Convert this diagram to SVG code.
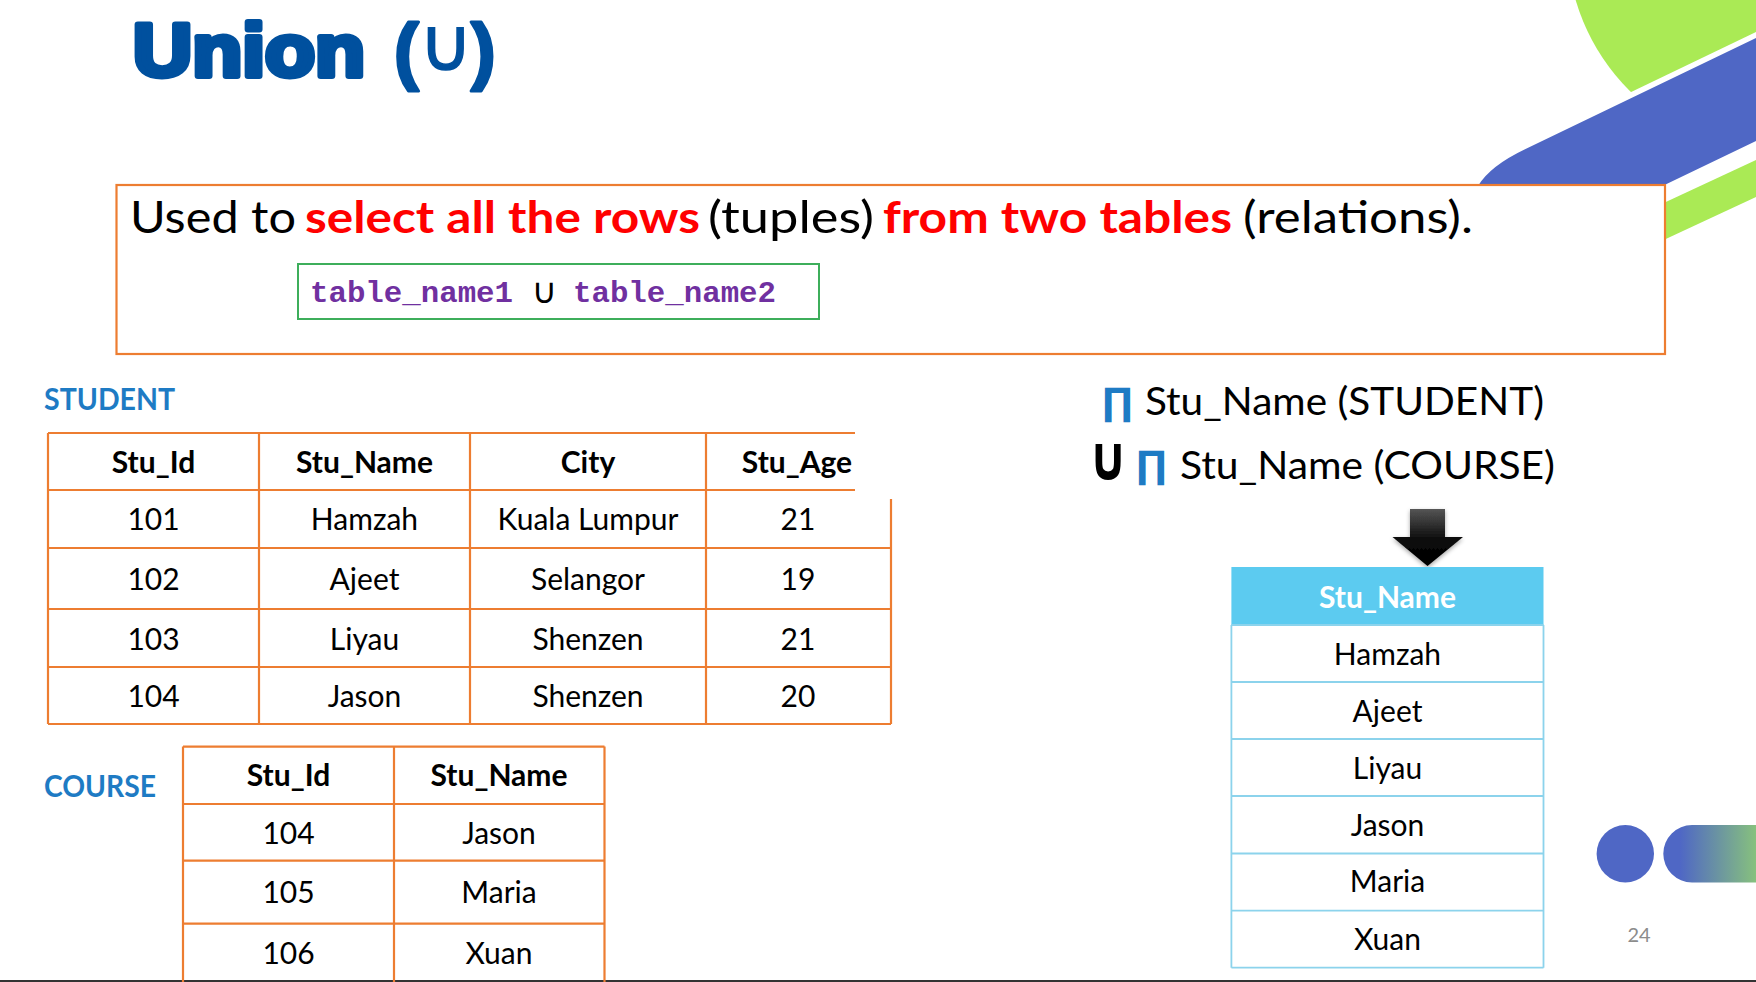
<svg xmlns="http://www.w3.org/2000/svg" width="1756" height="982" viewBox="0 0 1756 982">
<style>
.cal{font-family:Lato,"Liberation Sans","Noto Sans",sans-serif}
.ol{fill:none;stroke:#ED7D31;stroke-width:2.2}
.bl{fill:none;stroke:#8CD3EC;stroke-width:1.8}
.th{font-family:Lato,"Liberation Sans",sans-serif;font-weight:700;font-size:30px;fill:#000;text-anchor:middle}
.td{font-family:Lato,"Liberation Sans",sans-serif;font-weight:400;font-size:30px;fill:#000;text-anchor:middle}
.lbl{font-family:Lato,"Liberation Sans",sans-serif;font-weight:700;font-size:30px;fill:#1E7BC4}
.red{font-weight:700;fill:#FF0000}
.code{font-family:"Liberation Mono",monospace;font-weight:700;font-size:30px;fill:#7030A0}
.ttl{font-family:"Liberation Sans",sans-serif;font-weight:700;fill:#00509E;stroke:#00509E;stroke-linejoin:round}
</style>
<defs>
<clipPath id="circClip"><polygon points="1500,0 1756,0 1756,32 1500,155"/></clipPath>
<linearGradient id="pillGrad" gradientUnits="userSpaceOnUse" x1="1680" y1="0" x2="1762" y2="0">
<stop offset="0" stop-color="#4F67C5"/><stop offset="1" stop-color="#8BC878"/>
</linearGradient>
<linearGradient id="arrowGrad" x1="0" y1="0" x2="0" y2="1">
<stop offset="0" stop-color="#555"/><stop offset="0.55" stop-color="#0a0a0a"/><stop offset="1" stop-color="#000"/>
</linearGradient>
<filter id="sh" x="-30%" y="-30%" width="160%" height="160%">
<feDropShadow dx="0" dy="2" stdDeviation="2" flood-color="#000" flood-opacity="0.35"/>
</filter>
</defs>
<rect width="1756" height="982" fill="#fff"/>
<g id="decor">
<circle cx="1780" cy="-60" r="213" fill="#AAEA55" clip-path="url(#circClip)"/>
<path d="M1756,38 L1525,149.3 Q1490,166 1478,186 L1600,216 L1756,141 Z" fill="#4F67C5"/>
<path d="M1640,214 L1756,160 L1756,197 L1640,251 Z" fill="#AAEA55"/>
<circle cx="1625.3" cy="853.7" r="28.7" fill="#4F67C5"/>
<path d="M1692,825 L1756,825 L1756,882.4 L1692,882.4 A28.7,28.7 0 0 1 1692,825 Z" fill="url(#pillGrad)"/>
<rect x="0" y="980" width="1756" height="2" fill="#333"/>
</g>
<g id="title">
<text class="ttl" x="133" y="76" font-size="74" stroke-width="6" textLength="232" lengthAdjust="spacingAndGlyphs">Union</text>
<text class="ttl" x="394" y="76" font-size="74" stroke-width="3">(</text>
<text x="446" y="70" font-family="DejaVu Sans" font-size="73" fill="#00509E" stroke="#00509E" stroke-width="1.5" text-anchor="middle">∪</text>
<text class="ttl" x="471" y="76" font-size="74" stroke-width="3">)</text>
</g>
<g id="description">
<rect x="116.5" y="185" width="1548.5" height="169" fill="#fff" stroke="#ED7D31" stroke-width="2.2"/>
<g class="cal" font-size="44">
<text x="130" y="233" textLength="166" lengthAdjust="spacingAndGlyphs">Used to</text>
<text class="red" x="305" y="233" textLength="395" lengthAdjust="spacingAndGlyphs">select all the rows</text>
<text x="708" y="233" textLength="166" lengthAdjust="spacingAndGlyphs">(tuples)</text>
<text class="red" x="883" y="233" textLength="349" lengthAdjust="spacingAndGlyphs">from two tables</text>
<text x="1243" y="233" textLength="230" lengthAdjust="spacingAndGlyphs">(relations).</text>
</g>
</g>
<g id="code-box">
<rect x="298" y="264" width="521" height="55" fill="#fff" stroke="#3DAE5B" stroke-width="2"/>
<text class="code" x="310" y="302" textLength="203" lengthAdjust="spacingAndGlyphs">table_name1</text>
<text x="544.5" y="303" font-family="DejaVu Sans" font-size="35" fill="#000" text-anchor="middle">∪</text>
<text class="code" x="573" y="302" textLength="203" lengthAdjust="spacingAndGlyphs">table_name2</text>
</g>
<g id="student-label"><text class="lbl" x="44" y="410" textLength="131" lengthAdjust="spacingAndGlyphs">STUDENT</text></g>
<g id="student-table">
<path class="ol" d="M48,433H855M48,490H855M48,548H891M48,609H891M48,667H891M48,724H891M48,433V724M259,433V724M470,433V724M706,433V724M891,499V724"/>
<text class="th" x="153.5" y="473">Stu_Id</text>
<text class="th" x="364.5" y="473">Stu_Name</text>
<text class="th" x="588" y="473">City</text>
<text class="th" x="797" y="473">Stu_Age</text>
<text class="td" x="153.5" y="530">101</text><text class="td" x="364.5" y="530">Hamzah</text><text class="td" x="588" y="530">Kuala Lumpur</text><text class="td" x="798" y="530">21</text>
<text class="td" x="153.5" y="590">102</text><text class="td" x="364.5" y="590">Ajeet</text><text class="td" x="588" y="590">Selangor</text><text class="td" x="798" y="590">19</text>
<text class="td" x="153.5" y="650">103</text><text class="td" x="364.5" y="650">Liyau</text><text class="td" x="588" y="650">Shenzen</text><text class="td" x="798" y="650">21</text>
<text class="td" x="153.5" y="707">104</text><text class="td" x="364.5" y="707">Jason</text><text class="td" x="588" y="707">Shenzen</text><text class="td" x="798" y="707">20</text>
</g>
<g id="course-label"><text class="lbl" x="44" y="797" textLength="112" lengthAdjust="spacingAndGlyphs">COURSE</text></g>
<g id="course-table">
<path class="ol" d="M183,746.6H604.5M183,804H604.5M183,860.6H604.5M183,923.6H604.5M183,746.6V982M394,746.6V982M604.5,746.6V982"/>
<text class="th" x="288.5" y="786">Stu_Id</text>
<text class="th" x="499" y="786">Stu_Name</text>
<text class="td" x="288.5" y="844">104</text><text class="td" x="499" y="844">Jason</text>
<text class="td" x="288.5" y="903">105</text><text class="td" x="499" y="903">Maria</text>
<text class="td" x="288.5" y="963.5">106</text><text class="td" x="499" y="963.5">Xuan</text>
</g>
<g id="formula">
<text x="1102" y="415" font-family="DejaVu Sans" font-weight="700" font-size="38" fill="#1E7BC4" textLength="31" lengthAdjust="spacingAndGlyphs">∏</text>
<text class="cal" x="1145" y="415" font-size="38" fill="#000" textLength="399" lengthAdjust="spacingAndGlyphs">Stu_Name (STUDENT)</text>
<text x="1088" y="480" font-family="DejaVu Sans" font-weight="700" font-size="62" fill="#000" textLength="40" lengthAdjust="spacingAndGlyphs">∪</text>
<text x="1136" y="478" font-family="DejaVu Sans" font-weight="700" font-size="38" fill="#1E7BC4" textLength="31" lengthAdjust="spacingAndGlyphs">∏</text>
<text class="cal" x="1180" y="479" font-size="38" fill="#000" textLength="375" lengthAdjust="spacingAndGlyphs">Stu_Name (COURSE)</text>
</g>
<g id="connectors">
<polygon points="1410,509 1445,509 1445,537 1463,537 1427.5,566 1392.5,537 1410,537" fill="url(#arrowGrad)" filter="url(#sh)"/>
</g>
<g id="result-table">
<rect x="1231.4" y="567" width="312.1" height="58" fill="#5CCBF0"/>
<path class="bl" d="M1231.4,625H1543.5M1231.4,682H1543.5M1231.4,739H1543.5M1231.4,796H1543.5M1231.4,853.5H1543.5M1231.4,910.6H1543.5M1231.4,967.7H1543.5M1231.4,625V967.7M1543.5,625V967.7"/>
<text class="th" x="1387.5" y="608" style="fill:#fff">Stu_Name</text>
<text class="td" x="1387.5" y="664.6">Hamzah</text>
<text class="td" x="1387.5" y="721.8">Ajeet</text>
<text class="td" x="1387.5" y="778.5">Liyau</text>
<text class="td" x="1387.5" y="836">Jason</text>
<text class="td" x="1387.5" y="892">Maria</text>
<text class="td" x="1387.5" y="950">Xuan</text>
</g>
<g id="page-number"><text class="cal" x="1639" y="942" font-size="20" fill="#8C8C8C" text-anchor="middle">24</text></g>
</svg>
